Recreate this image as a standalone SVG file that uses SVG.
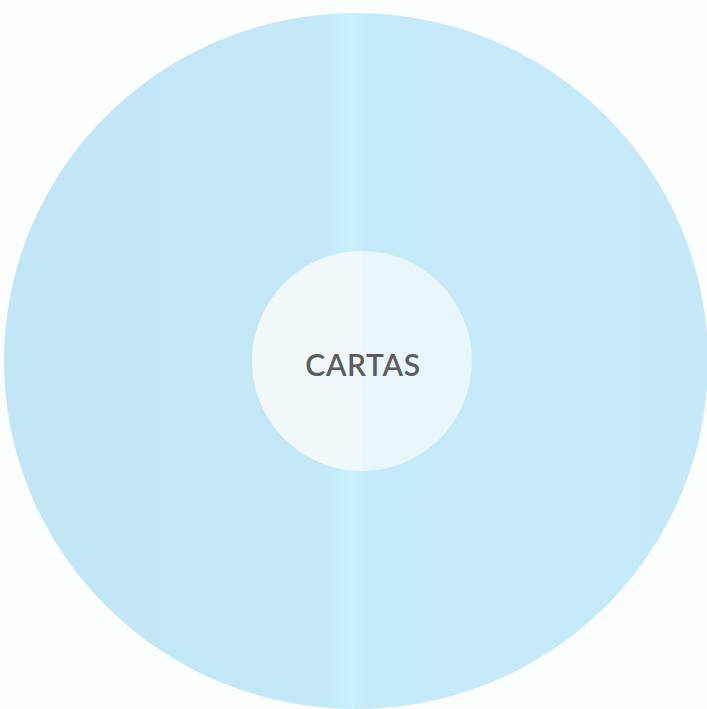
<svg xmlns="http://www.w3.org/2000/svg" width="707" height="709" viewBox="0 0 707 709">
  <defs>
    <linearGradient id="outerFill" x1="0" y1="0" x2="1" y2="0">
      <stop offset="0" stop-color="#c3e6f7"/>
      <stop offset="0.46" stop-color="#c4e8f8"/>
      <stop offset="0.49" stop-color="#caf0fb"/>
      <stop offset="0.52" stop-color="#c5eafa"/>
      <stop offset="1" stop-color="#c6e9f9"/>
    </linearGradient>
    <linearGradient id="innerFill" x1="0" y1="0" x2="1" y2="0">
      <stop offset="0" stop-color="#f1f9fd"/>
      <stop offset="0.5" stop-color="#f1f9fd"/>
      <stop offset="0.5" stop-color="#e9f6fc"/>
      <stop offset="1" stop-color="#e9f6fc"/>
    </linearGradient>
    <style>
      .label { font-family: Lato, "Open Sans", "Liberation Sans", sans-serif; font-size: 30px; font-weight: 600; letter-spacing: 0.6px; fill: #5c5c5e; text-anchor: middle; }
    </style>
  </defs>
  <rect x="0" y="0" width="707" height="709" fill="#fcfdfd"/>
  <g id="outer">
    <ellipse cx="356" cy="361" rx="352" ry="348" fill="url(#outerFill)"/>
  </g>
  <g id="connectors"/>
  <g id="cartas">
    <circle cx="362" cy="361" r="110" fill="url(#innerFill)"/>
    <text class="label" x="363" y="376">CARTAS</text>
  </g>
</svg>
